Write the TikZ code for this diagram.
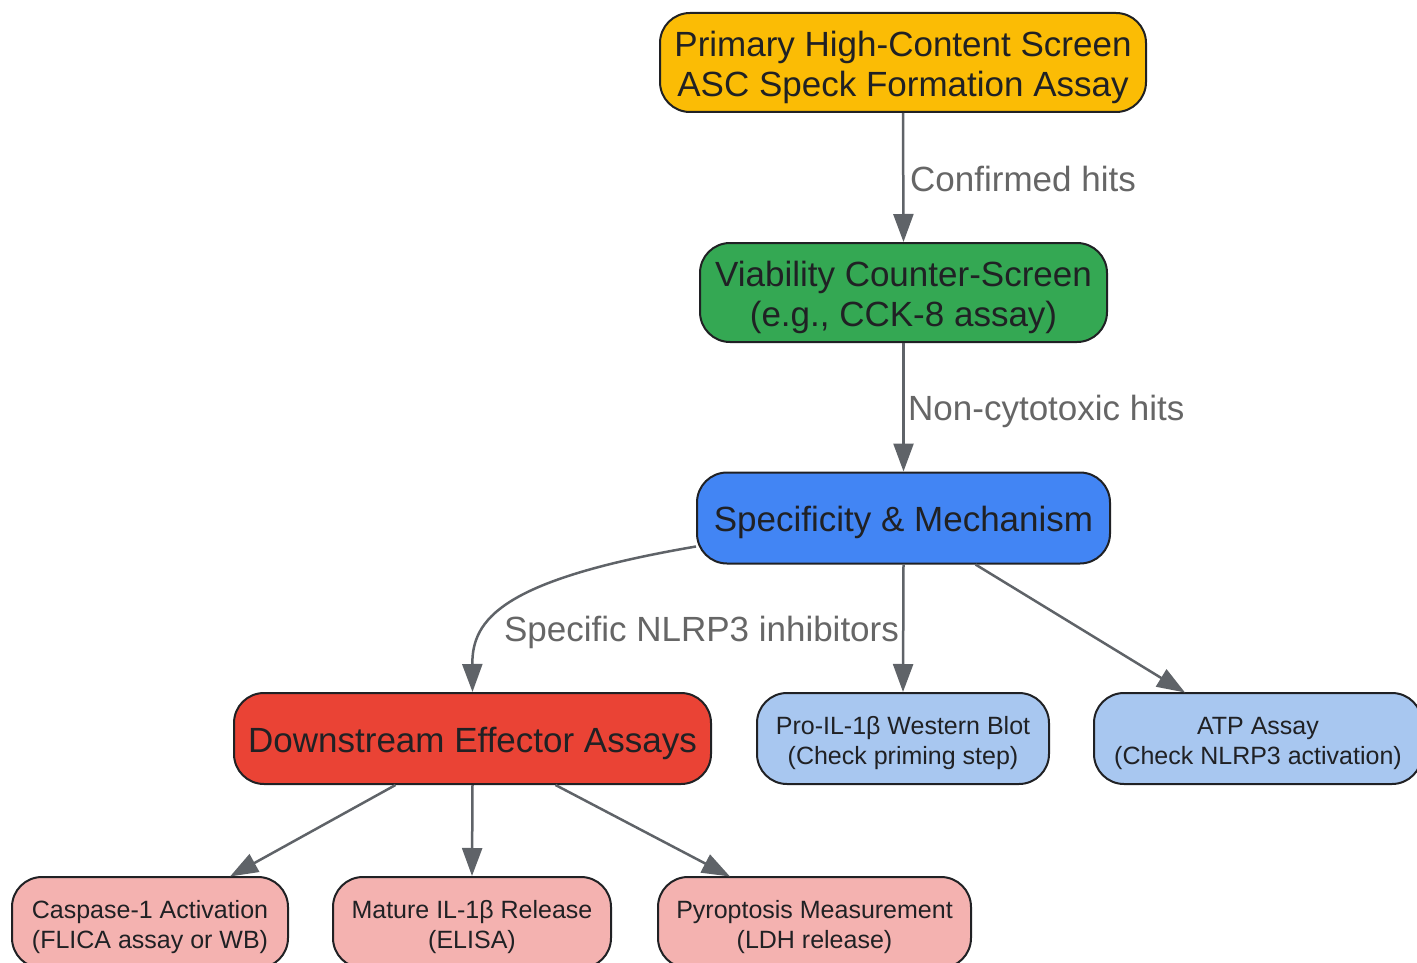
\documentclass[tikz,border=0pt]{standalone}
\usepackage{fontspec}
\setmainfont{Liberation Sans}
\usetikzlibrary{arrows.meta}
\definecolor{cYellow}{RGB}{251,188,5}
\definecolor{cGreen}{RGB}{52,168,83}
\definecolor{cBlue}{RGB}{66,133,244}
\definecolor{cRed}{RGB}{234,67,53}
\definecolor{cLBlue}{RGB}{168,199,240}
\definecolor{cPink}{RGB}{244,178,176}
\definecolor{cEdge}{RGB}{95,99,104}
\definecolor{cLabel}{RGB}{102,102,102}
\definecolor{cText}{RGB}{32,33,36}
\tikzset{
  box/.style={draw=cText, line width=2pt, rounded corners=30pt, inner sep=0pt},
  bigtxt/.style={align=center, text=cText, inner sep=0pt, yshift=-4.5pt, font=\fontsize{35}{40}\selectfont},
  smalltxt/.style={align=center, text=cText, inner sep=0pt, yshift=-4.5pt, font=\fontsize{25}{30}\selectfont},
  conn/.style={draw=cEdge, line width=2.5pt, -{Triangle[length=28pt,width=20pt]}},
  elabel/.style={text=cLabel, font=\fontsize{35}{40}\selectfont, inner sep=0pt}
}
\begin{document}
\begin{tikzpicture}[x=1pt,y=-1pt]
\useasboundingbox (0,0) rectangle (1417,963);
\node[box, fill=cYellow, minimum width=486pt, minimum height=99pt,
  label={[bigtxt]center:{Primary High-Content Screen\\ASC Speck Formation Assay}}] (primary) at (903,62.5) {};
\node[box, fill=cGreen, minimum width=407pt, minimum height=99pt,
  label={[bigtxt]center:{Viability Counter-Screen\\(e.g., CCK-8 assay)}}] (viab) at (903.5,292.5) {};
\node[box, fill=cBlue, minimum width=413pt, minimum height=91pt,
  label={[bigtxt]center:{Specificity \& Mechanism}}] (spec) at (903.5,518) {};
\node[box, fill=cRed, minimum width=477pt, minimum height=91pt,
  label={[bigtxt]center:{Downstream Effector Assays}}] (down) at (472.5,738.5) {};
\node[box, fill=cLBlue, minimum width=292pt, minimum height=91pt,
  label={[smalltxt]center:{Pro-IL-1β Western Blot\\(Check priming step)}}] (proil) at (903,738.5) {};
\node[box, fill=cLBlue, minimum width=328pt, minimum height=91pt,
  label={[smalltxt]center:{ATP Assay\\(Check NLRP3 activation)}}] (atp) at (1258,738.5) {};
\node[box, fill=cPink, minimum width=276pt, minimum height=91pt,
  label={[smalltxt]center:{Caspase-1 Activation\\(FLICA assay or WB)}}] (casp) at (150,922.5) {};
\node[box, fill=cPink, minimum width=278pt, minimum height=91pt,
  label={[smalltxt]center:{Mature IL-1β Release\\(ELISA)}}] (mature) at (472,922.5) {};
\node[box, fill=cPink, minimum width=313pt, minimum height=91pt,
  label={[smalltxt]center:{Pyroptosis Measurement\\(LDH release)}}] (pyro) at (814.5,922.5) {};

\draw[conn] (primary.south) -- (viab.north);
\draw[conn] (viab.south) -- (spec.north);
\draw[conn] (spec.south) -- (proil.north);
\draw[conn] (spec.south west) ++(0,-18) coordinate (s1) (s1) .. controls (500,580) and (472,620) .. (down.north);
\draw[conn] (spec.south) ++(72,0) coordinate (s2) (s2) -- (1185,692.5) coordinate (a1);
\draw[conn] (down.south) ++(-77,0) coordinate (d1) (d1) -- (230,876.5) coordinate (c1);
\draw[conn] (down.south) -- (mature.north);
\draw[conn] (down.south) ++(83,0) coordinate (d2) (d2) -- (730,876.5) coordinate (p1);

\node[elabel, anchor=west] (l1) at (910,179) {Confirmed hits};
\node[elabel, anchor=west] (l2) at (908,411) {Non-cytotoxic hits};
\node[elabel] (l3) at (701.5,632) {Specific NLRP3 inhibitors};
\end{tikzpicture}
\end{document}
